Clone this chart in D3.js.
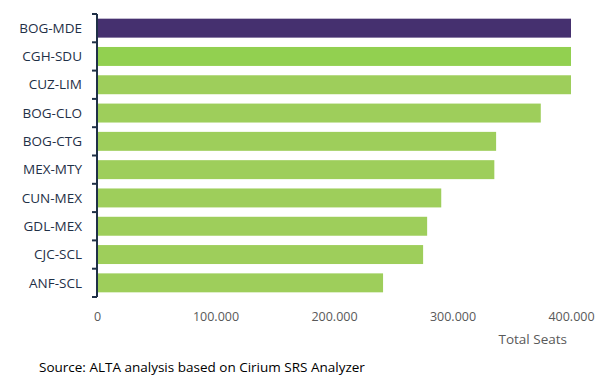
<!DOCTYPE html>
<html>
<head>
<meta charset="utf-8">
<script src="https://cdn.jsdelivr.net/npm/d3@7"></script>
<style>
  html, body { margin: 0; padding: 0; background: #fff; }
  svg { display: block; }
  text { font-family: "Open Sans", "Noto Sans", sans-serif; }
</style>
</head>
<body>
<svg id="chart" width="608" height="377"></svg>
<script>
// Routes ranked by total seats
const routes = ["BOG-MDE", "CGH-SDU", "CUZ-LIM", "BOG-CLO", "BOG-CTG",
                "MEX-MTY", "CUN-MEX", "GDL-MEX", "CJC-SCL", "ANF-SCL"];
const seats = [400000, 400000, 400000, 374500, 336800,
               335300, 290500, 278600, 275200, 241400];
const xTicks = [0, 100000, 200000, 300000, 400000];
const xTickLabels = ["0", "100.000", "200.000", "300.000", "400.000"];
const barColors = ["#45306f", "#92d050", "#9ece5b", "#9ece5b", "#9ece5b",
                   "#9ece5b", "#9ece5b", "#9ece5b", "#9ece5b", "#9ece5b"];

const svg = d3.select("#chart");
const margin = { left: 97, right: 37, top: 14, bottom: 80 };
const W = 608, H = 377;

const x = d3.scaleLinear()
  .domain([0, 400000])
  .range([margin.left, W - margin.right])
  .clamp(true);

const y = d3.scaleBand()
  .domain(routes)
  .range([margin.top, H - margin.bottom])
  .paddingInner(0.33)
  .paddingOuter(0.165);

// Bars
svg.append("g")
  .selectAll("rect")
  .data(routes)
  .join("rect")
  .attr("x", x(0) + 0.5)
  .attr("y", d => y(d))
  .attr("width", (d, i) => x(seats[i]) - x(0) - 0.5)
  .attr("height", y.bandwidth())
  .attr("fill", (d, i) => barColors[i]);

// Category axis with ticks between bands
const yAxisG = svg.append("g").attr("transform", `translate(${margin.left},0)`);
yAxisG.append("line")
  .attr("x1", 0).attr("x2", 0)
  .attr("y1", margin.top).attr("y2", H - margin.bottom)
  .attr("stroke", "#1f3047").attr("stroke-width", 2);
const step = y.step();
const boundaries = d3.range(routes.length + 1).map(i => margin.top + i * step);
yAxisG.selectAll("line.tick")
  .data(boundaries)
  .join("line")
  .attr("class", "tick")
  .attr("x1", -5).attr("x2", 0)
  .attr("y1", d => d).attr("y2", d => d)
  .attr("stroke", "#1f3047").attr("stroke-width", 2);
yAxisG.selectAll("text")
  .data(routes)
  .join("text")
  .attr("x", -15)
  .attr("y", d => y(d) + y.bandwidth() / 2)
  .attr("dy", "0.35em")
  .attr("text-anchor", "end")
  .attr("font-size", 13.5)
  .attr("fill", "#1f3047")
  .text(d => d);

// Value axis labels
const xAxis = d3.axisBottom(x)
  .tickValues(xTicks)
  .tickFormat((d, i) => xTickLabels[i])
  .tickSize(0)
  .tickPadding(0);
const xAxisG = svg.append("g")
  .attr("transform", `translate(0,${H - margin.bottom + 15})`)
  .call(xAxis);
xAxisG.select(".domain").remove();
xAxisG.selectAll("text")
  .attr("font-size", 12.5)
  .attr("fill", "#595959")
  .attr("font-family", "\"Open Sans\", sans-serif");

svg.append("text")
  .attr("x", 567)
  .attr("y", 344)
  .attr("text-anchor", "end")
  .attr("font-size", 13.5)
  .attr("fill", "#595959")
  .text("Total Seats");

svg.append("text")
  .attr("x", 39)
  .attr("y", 372)
  .attr("font-size", 13.5)
  .attr("fill", "#000")
  .text("Source: ALTA analysis based on Cirium SRS Analyzer");
</script>
</body>
</html>
